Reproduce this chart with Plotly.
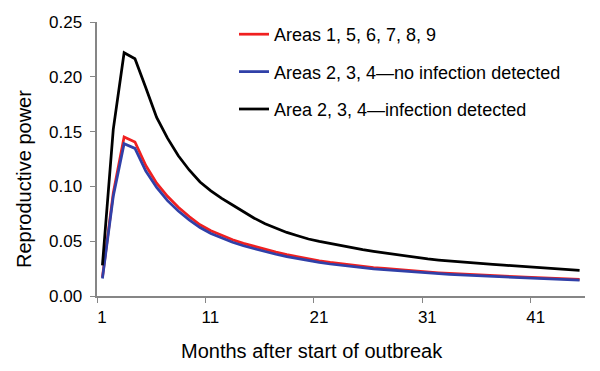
import plotly.graph_objects as go

months = list(range(1, 46))

areas_1_5_9 = [0.017, 0.094, 0.145, 0.1405, 0.119, 0.103, 0.091, 0.081, 0.0725, 0.065,
               0.0595, 0.0551, 0.0513, 0.0480, 0.0451, 0.0424, 0.0400, 0.0377, 0.0357, 0.0338,
               0.0321, 0.0306, 0.0293, 0.0281, 0.0270, 0.0260, 0.0251, 0.0242, 0.0234, 0.0226,
               0.0219, 0.0212, 0.0206, 0.0200, 0.0195, 0.0190, 0.0185, 0.0180, 0.0176, 0.0172,
               0.0167, 0.0163, 0.0159, 0.0155, 0.0151]

areas_2_4_no_inf = [0.016, 0.091, 0.139, 0.1347, 0.114, 0.099, 0.087, 0.0775, 0.0695, 0.0625,
                    0.0570, 0.0527, 0.0490, 0.0458, 0.0430, 0.0404, 0.0381, 0.0359, 0.0340, 0.0322,
                    0.0306, 0.0292, 0.0279, 0.0268, 0.0258, 0.0248, 0.0240, 0.0232, 0.0224, 0.0217,
                    0.0210, 0.0204, 0.0198, 0.0192, 0.0187, 0.0182, 0.0177, 0.0173, 0.0168, 0.0164,
                    0.0160, 0.0156, 0.0152, 0.0148, 0.0144]

areas_2_4_inf = [0.028, 0.152, 0.222, 0.2165, 0.190, 0.163, 0.144, 0.128, 0.115, 0.104,
                 0.096, 0.089, 0.083, 0.077, 0.071, 0.066, 0.062, 0.058, 0.055, 0.052,
                 0.0498, 0.0478, 0.0458, 0.0440, 0.0423, 0.0407, 0.0392, 0.0377, 0.0363, 0.0350,
                 0.0338, 0.0328, 0.0319, 0.0311, 0.0303, 0.0295, 0.0288, 0.0281, 0.0274, 0.0267,
                 0.0259, 0.0252, 0.0246, 0.0240, 0.0234]

series_names = ["Areas 1, 5, 6, 7, 8, 9",
                "Areas 2, 3, 4\u2014no infection detected",
                "Area 2, 3, 4\u2014infection detected"]
series_colors = ["#f02020", "#3040a8", "#000000"]

x_tick_labels = ["1", "11", "21", "31", "41"]
x_tick_bounds = [0.5, 10.5, 20.5, 30.5, 40.5]

fig = go.Figure()
for name, vals, col in zip(series_names, [areas_1_5_9, areas_2_4_no_inf, areas_2_4_inf], series_colors):
    fig.add_trace(go.Scatter(x=months, y=vals, mode="lines", name=name,
                             legendgroup=name,
                             line=dict(color=col, width=2.75)))

axis_gray = "#868686"
fig.update_layout(
    width=600, height=371,
    margin=dict(l=97, r=15, t=22, b=75),
    paper_bgcolor="white", plot_bgcolor="white",
    font=dict(family="Liberation Sans, Arial, sans-serif", color="black", size=17),
    showlegend=True,
    legend=dict(x=(234 - 97) / 488, y=1.0 + 6 / 274, xanchor="left", yanchor="top",
                font=dict(size=18), tracegroupgap=11, bgcolor="rgba(0,0,0,0)"),
    xaxis=dict(range=[0.5, 45.5], tickmode="array", tickvals=x_tick_bounds, ticktext=x_tick_labels,
               ticklabelshift=5, ticks="outside", ticklen=5, tickcolor=axis_gray,
               showline=True, linecolor=axis_gray, linewidth=1.5, showgrid=False, zeroline=False,
               tickfont=dict(size=17)),
    yaxis=dict(range=[0, 0.25], dtick=0.05, tick0=0, tickformat=".2f", ticks="outside", ticklen=5,
               tickcolor=axis_gray, showline=True, linecolor=axis_gray, linewidth=1.5,
               showgrid=False, zeroline=False, tickfont=dict(size=17), ticksuffix="\u00a0"),
    annotations=[
        dict(text="Months after start of outbreak", xref="paper", yref="paper",
             x=(312 - 97) / 488, y=-(351 - 296) / 274, xanchor="center", yanchor="middle",
             showarrow=False, font=dict(size=20)),
        dict(text="Reproductive power", xref="paper", yref="paper", textangle=-90,
             x=-(97 - 24) / 488, y=(296 - 179) / 274, xanchor="center", yanchor="middle",
             showarrow=False, font=dict(size=20)),
    ],
)

fig.write_html("out.html", config={"displayModeBar": False},
               post_script="document.body.style.margin='0';document.body.style.overflow='hidden';")
